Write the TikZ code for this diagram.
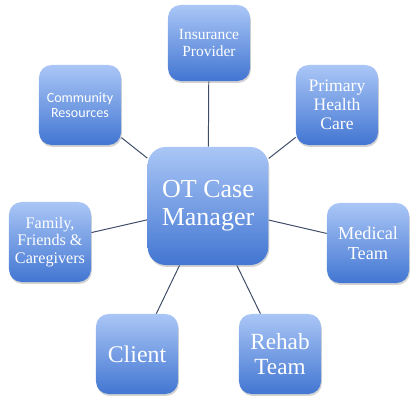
\documentclass[tikz,border=0pt]{standalone}
\usepackage{fontspec}
\setmainfont{Liberation Serif}
\newfontfamily\calfont{Carlito}
\usetikzlibrary{positioning, shadows, backgrounds}
\definecolor{boxtop}{RGB}{170,198,246}
\definecolor{boxbot}{RGB}{66,118,210}
\definecolor{linkcol}{RGB}{62,76,104}

\tikzset{
  satbox/.style={rounded corners=9pt, top color=boxtop, bottom color=boxbot,
    draw=none, text=white, align=center, minimum width=2.05cm, minimum height=2cm,
    inner sep=1pt, drop shadow={opacity=0.35, shadow xshift=0.6pt, shadow yshift=-1.4pt}},
  hubbox/.style={satbox, rounded corners=13pt, minimum width=3.02cm, minimum height=2.95cm},
  link/.style={draw=linkcol, line width=0.7pt}
}
\newcommand{\fsz}[1]{\fontsize{#1}{1.08\dimexpr #1pt\relax}\selectfont}

\begin{document}
\begin{tikzpicture}[x=0.025cm, y=-0.025cm]
\useasboundingbox (0,0) rectangle (417,400);
% Central node
\node[hubbox, font=\fsz{18.5}] (mgr) at (208,206) {OT Case\\Manager};
% Surrounding nodes (clockwise from top)
\node[satbox, minimum height=1.9cm, font=\fsz{11}] (ins) at (209,43) {Insurance\\Provider};
\node[satbox, font=\fsz{12.5}] (phc) at (337,105) {Primary\\Health\\Care};
\node[satbox, font=\fsz{13}] (med) at (368,243) {Medical\\Team};
\node[satbox, font=\fsz{16.5}] (reh) at (280,354) {Rehab\\Team};
\node[satbox, font=\fsz{17}] (cli) at (137,354) {Client};
\node[satbox, font=\fsz{11.5}] (fam) at (50,242) {Family,\\Friends \&\\Caregivers};
\node[satbox, font=\calfont\fsz{10}] (com) at (80,105) {Community\\Resources};
% Connectors behind the boxes
\begin{scope}[on background layer]
\foreach \sat in {ins, phc, med, reh, cli, fam, com}
  \draw[link] (mgr) -- (\sat);
\end{scope}
\end{tikzpicture}
\end{document}
